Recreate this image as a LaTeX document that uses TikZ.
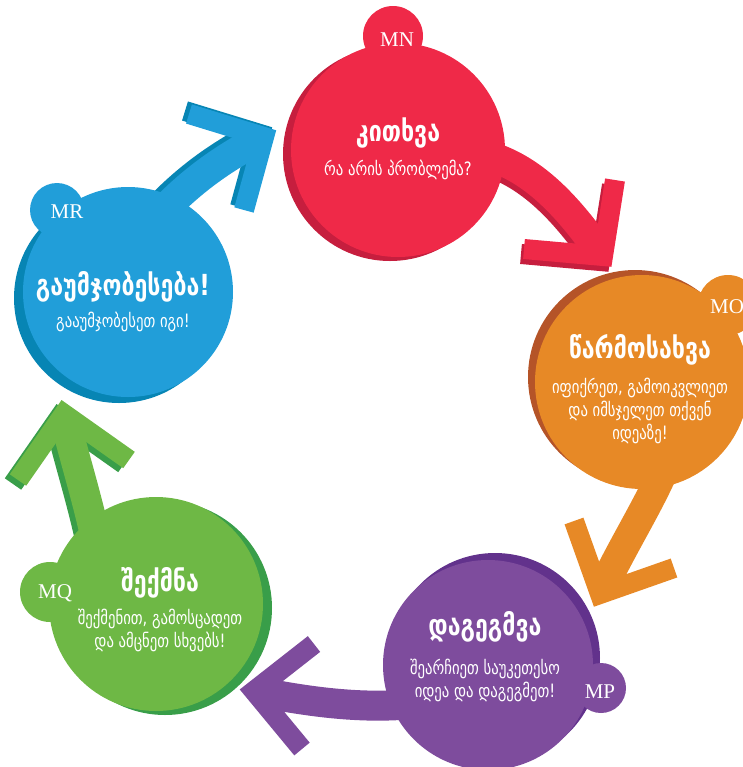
\documentclass[tikz,border=0pt]{standalone}
\usepackage{fontspec}
\newfontfamily\geofont[FakeStretch=0.8]{DejaVu Sans}
\newfontfamily\tagfont{Liberation Serif}
\definecolor{askred}{RGB}{239,41,72}
\definecolor{askdark}{RGB}{198,30,62}
\definecolor{imgorange}{RGB}{231,137,38}
\definecolor{imgdark}{RGB}{181,84,40}
\definecolor{planpurple}{RGB}{126,76,157}
\definecolor{plandark}{RGB}{98,50,140}
\definecolor{makegreen}{RGB}{110,184,69}
\definecolor{makedark}{RGB}{57,158,73}
\definecolor{fixblue}{RGB}{33,158,217}
\definecolor{fixdark}{RGB}{7,133,180}

\begin{document}
\begin{tikzpicture}[x=0.5pt, y=-0.5pt,
    band/.style={line width=15pt, shorten >=2pt},
    arm/.style={line width=10pt, line join=miter},
    sunk/.style={transform canvas={shift={#1}}},
    title/.style={text=white, font=\geofont\bfseries\fontsize{14.5}{16}\selectfont},
    info/.style={text=white, align=center, font=\geofont\fontsize{9.2}{11.5}\selectfont},
    tag/.style={text=white, font=\tagfont\fontsize{10.5}{12}\selectfont}]
  \useasboundingbox (0,0) rectangle (743,767);

  \coordinate (askS) at (470,152);   \coordinate (askV) at (603,256);
  \coordinate (imgS) at (675,430);   \coordinate (imgV) at (600,594);
  \coordinate (planS) at (400,705);  \coordinate (planV) at (254,691);
  \coordinate (makeS) at (95,535);   \coordinate (makeV) at (64,414);
  \coordinate (fixS) at (150,225);   \coordinate (fixV) at (264,137);

  \draw[band, askdark, sunk={(-3,5)}] (askS) .. controls (530,160) and (570,210) .. (askV);
  \draw[arm, askdark, sunk={(-3,5)}] (524,249) -- (askV) -- (615,180);
  \draw[band, askred] (askS) .. controls (530,160) and (570,210) .. (askV);
  \draw[arm, askred] (524,249) -- (askV) -- (615,180);

  \draw[band, imgorange] (imgS) .. controls (672,470) and (630,530) .. (imgV);
  \draw[arm, imgorange] (574,521) -- (imgV) -- (674,568);

  \draw[band, planpurple] (planS) .. controls (350,708) and (300,700) .. (planV);
  \draw[arm, planpurple] (314,644) -- (planV) -- (302,749);

  \draw[band, makedark, sunk={(-5,4)}] (makeS) .. controls (85,490) and (72,450) .. (makeV);
  \draw[arm, makedark, sunk={(-5,4)}] (18,480) -- (makeV) -- (129,460);
  \draw[band, makegreen] (makeS) .. controls (85,490) and (72,450) .. (makeV);
  \draw[arm, makegreen] (18,480) -- (makeV) -- (129,460);

  \draw[band, fixdark, sunk={(-4,-3)}] (fixS) .. controls (185,185) and (220,160) .. (fixV);
  \draw[arm, fixdark, sunk={(-4,-3)}] (189,114) -- (fixV) -- (244,210);
  \draw[band, fixblue] (fixS) .. controls (185,185) and (220,160) .. (fixV);
  \draw[arm, fixblue] (189,114) -- (fixV) -- (244,210);

  \fill[askdark] (390,154) circle (107);
  \fill[askred] (398,150) circle (107);
  \fill[askred] (393,36) circle (30);

  \fill[imgdark] (635,377) circle (107);
  \fill[imgorange] (642,382) circle (107);
  \fill[imgorange] (728,305) circle (30);

  \fill[plandark] (495,658) circle (105);
  \fill[planpurple] (488,665) circle (105);
  \fill[planpurple] (601,688) circle (25);

  \fill[makedark] (165,608) circle (107);
  \fill[makegreen] (156,604) circle (107);
  \fill[makegreen] (50,592) circle (30);

  \fill[fixdark] (119,298) circle (105);
  \fill[fixblue] (128,292) circle (105);
  \fill[fixblue] (57,210) circle (27);

  \node[tag] (askM) at (397,40) {MN};
  \node[title] (askT) at (398,133) {კითხვა};
  \node[info] (askI) at (398,170) {რა არის პრობლემა?};

  \node[tag] (imgM) at (727,307) {MO};
  \node[title] (imgT) at (640,350) {წარმოსახვა};
  \node[info] (imgI) at (640,411) {იფიქრეთ, გამოიკვლიეთ\\და იმსჯელეთ თქვენ\\იდეაზე!};

  \node[tag] (planM) at (600,692) {MP};
  \node[title] (planT) at (485,627) {დაგეგმვა};
  \node[info] (planI) at (485,680) {შეარჩიეთ საუკეთესო\\იდეა და დაგეგმეთ!};

  \node[tag] (makeM) at (55,593) {MQ};
  \node[title] (makeT) at (160,583) {შექმნა};
  \node[info] (makeI) at (160,630) {შექმენით, გამოსცადეთ\\და ამცნეთ სხვებს!};

  \node[tag] (fixM) at (67,212) {MR};
  \node[title] (fixT) at (123,287) {გაუმჯობესება!};
  \node[info] (fixI) at (123,322) {გააუმჯობესეთ იგი!};
\end{tikzpicture}
\end{document}
